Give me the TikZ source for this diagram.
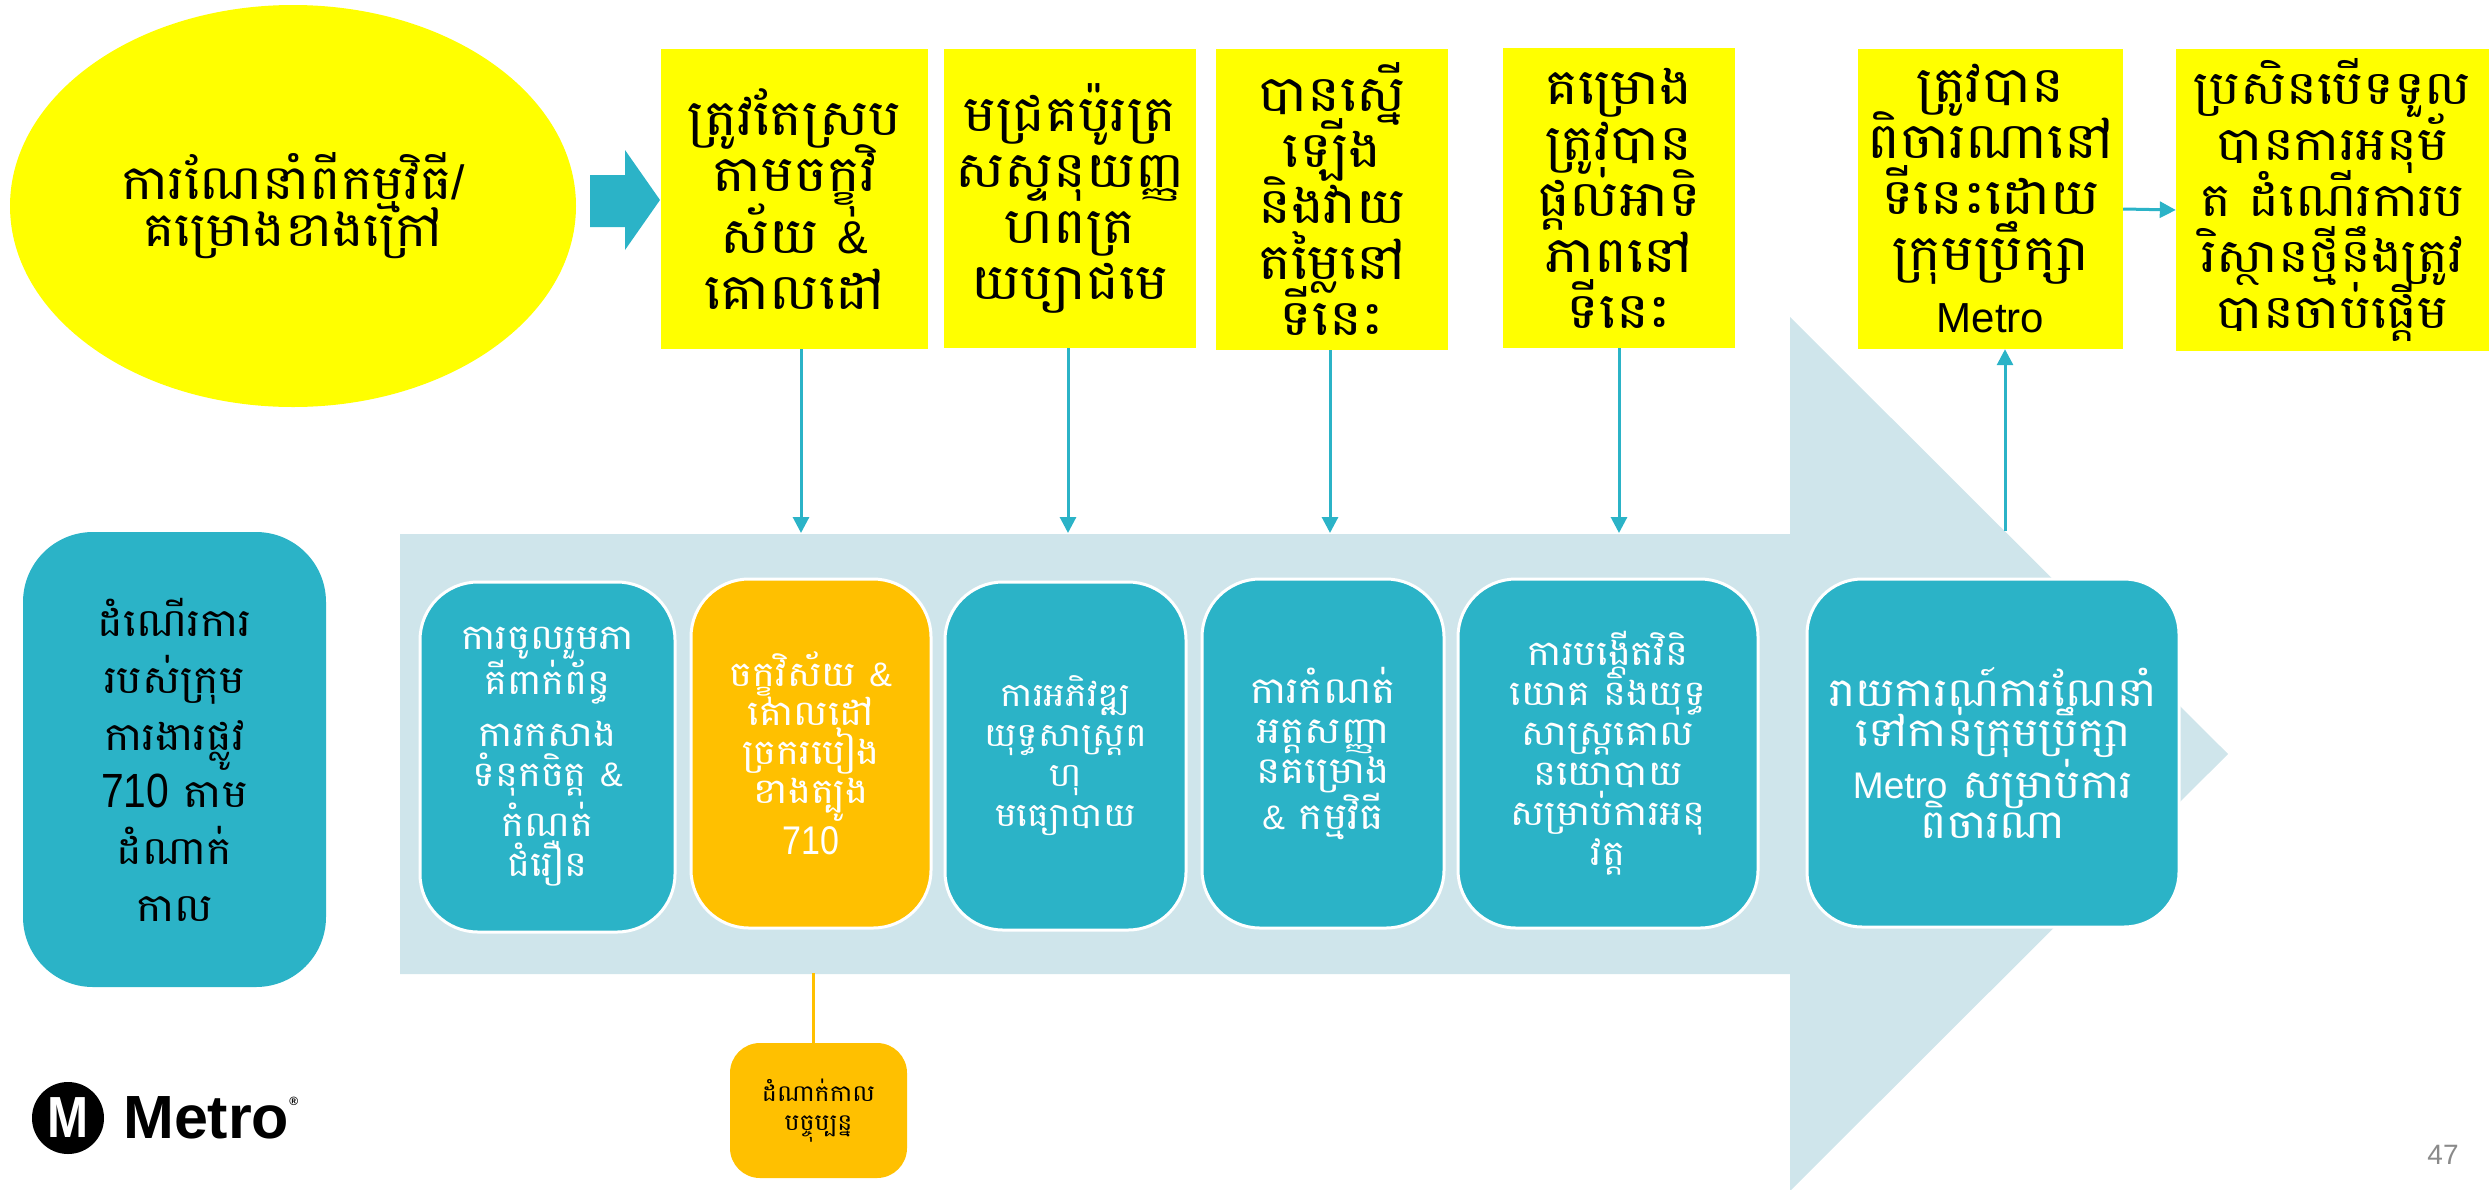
\documentclass[tikz,border=0pt]{standalone}
\usepackage{fontspec}
\usetikzlibrary{shapes.geometric,arrows.meta}
\newfontfamily\kh[Script=Khmer,FakeStretch=1.1]{Battambang}
\newfontfamily\lat[FakeStretch=0.85]{Liberation Sans}
\newfontfamily\latn{Liberation Sans}
\newcommand\LT[2]{{\lat\fontsize{#1}{#1}\selectfont #2}}
\newcommand\LN[2]{{\latn\fontsize{#1}{#1}\selectfont #2}}
\newcommand\fx[2]{\kh\fontsize{#1}{#2}\selectfont\lineskiplimit=-200pt\lineskip=0pt\relax}
\definecolor{ylw}{HTML}{FFFF00}
\definecolor{cyn}{HTML}{2BB3C7}
\definecolor{lblue}{HTML}{CFE5EB}
\definecolor{orng}{HTML}{FFC000}
\definecolor{pgray}{HTML}{8A8A8A}
\tikzset{
 ybox/.style={fill=ylw, inner sep=0pt, align=center, text=black, font={\fx{50}{56}}},
 cbox/.style={fill=cyn, draw=white, line width=3pt, rounded corners=58pt, inner sep=0pt, align=center, text=white, font={\fx{34}{40}}},
 obox/.style={cbox, fill=orng},
 conn/.style={draw=cyn, line width=3pt, -{Triangle[length=16pt,width=16pt]}},
}
\begin{document}
\begin{tikzpicture}[x=1pt,y=-1pt]
\useasboundingbox (0,0) rectangle (2491,1189);
% big light arrow
\fill[lblue] (400,534) -- (1790,534) -- (1790,317) -- (2228,754) -- (1790,1191) -- (1790,974) -- (400,974) -- cycle;
% small block arrow
\fill[cyn] (590,175) -- (625,175) -- (625,150) -- (660,200) -- (625,250) -- (625,227) -- (590,227) -- cycle;
% ellipse
\node[ellipse, fill=ylw, minimum width=566pt, minimum height=402pt, inner sep=0pt, align=center,
  font={\fx{48}{47}}] (ell) at (293,206) {ការណែនាំពីកម្មវិធី\LN{48}{/}\\គម្រោងខាងក្រៅ};
% yellow boxes
\node[ybox, minimum width=267pt, minimum height=300pt] (Y1) at (794.5,199) {ត្រូវតែស្រប\\តាមចក្ខុវិ\\[6pt]ស័យ \LN{46}{\&}\\គោលដៅ};
\node[ybox, minimum width=252pt, minimum height=299pt] (Y2) at (1070,198.5) {មជ្រគប៉ូរត្រ\\សស្ទនុយញ្ញ\\ហពត្រ\\យប្យាជមេ};
\node[ybox, minimum width=232pt, minimum height=301pt] (Y3) at (1332,199.5) {បានស្នើ\\ឡើង\\និងវាយ\\តម្លៃនៅ\\ទីនេះ};
\node[ybox, minimum width=232pt, minimum height=300pt] (Y4) at (1619,198) {គម្រោង\\ត្រូវបាន\\ផ្តល់អាទិ\\ភាពនៅ\\ទីនេះ};
\node[ybox, minimum width=265pt, minimum height=300pt] (Y5) at (1990.5,199) {ត្រូវបាន\\ពិចារណានៅ\\ទីនេះដោយ\\ក្រុមប្រឹក្សា\\[6pt]\LN{42}{Metro}};
\node[ybox, minimum width=313pt, minimum height=302pt, font={\fx{47}{56}}] (Y6) at (2332.5,200) {ប្រសិនបើទទួល\\បានការអនុម័\\ត ដំណើរការប\\រិស្ថានថ្មីនឹងត្រូវ\\បានចាប់ផ្តើម};
% lower left box
\node[cbox, draw=none, rounded corners=70pt, minimum width=303pt, minimum height=455pt, text=black,
  font={\fx{39}{57}}] (L) at (174.5,759.5) {ដំណើរការ\\របស់ក្រុម\\ការងារផ្លូវ\\\LT{48}{710} តាម\\ដំណាក់\\កាល};
% process boxes
\node[cbox, font={\fx{35}{40}}, minimum width=255pt, minimum height=350pt] (A) at (547.5,757) {ការចូលរួមភា\\[5pt]គីពាក់ព័ន្ធ\\[12pt]ការកសាង\\ទំនុកចិត្ត \LN{34}{\&}\\[10pt]កំណត់\\ជំរឿន};
\node[obox, font={\fx{35}{39}}, minimum width=240pt, minimum height=349pt] (B) at (811,753.5) {ចក្ខុវិស័យ \LN{34}{\&}\\គោលដៅ\\ច្រករបៀង\\ខាងត្បូង\\[12pt]\LT{40}{710}};
\node[cbox, font={\fx{33}{40}}, minimum width=241pt, minimum height=348pt] (C) at (1065.5,756) {ការអភិវឌ្ឍ\\យុទ្ធសាស្ត្រព\\ហុ\\មធ្យោបាយ};
\node[cbox, font={\fx{37}{40}}, minimum width=242pt, minimum height=349pt] (D) at (1323,753.5) {ការកំណត់\\អត្តសញ្ញា\\នគម្រោង\\[6pt]\LN{34}{\&} កម្មវិធី};
\node[cbox, font={\fx{35}{40}}, minimum width=300pt, minimum height=349pt] (E) at (1608,753.5) {ការបង្កើតវិនិ\\យោគ និងយុទ្ធ\\សាស្ត្រគោល\\នយោបាយ\\សម្រាប់ការអនុ\\វត្ត};
\node[cbox, rounded corners=55pt, minimum width=372pt, minimum height=348pt, font={\fx{40}{40}}] (F) at (1993,753) {រាយការណ៍ការណែនាំ\\ទៅកាន់ក្រុមប្រឹក្សា\\[12pt]\LN{37}{Metro} សម្រាប់ការ\\ពិចារណា};
% current phase box
\node[fill=orng, rounded corners=30pt, minimum width=177pt, minimum height=135pt, inner sep=0pt, align=center,
  font={\fx{23}{29}}] (S) at (818.5,1110.5) {ដំណាក់កាល\\បច្ចុប្បន្ន};
% connectors
\coordinate (t1) at (801,533);
\coordinate (t2) at (1068,533);
\coordinate (t3) at (1330,533);
\coordinate (t4) at (1619,533);
\coordinate (fu) at (2005,531);
\coordinate (ob) at (813,973);
\draw[conn] (Y1.south -| t1) -- (t1);
\draw[conn] (Y2.south -| t2) -- (t2);
\draw[conn] (Y3.south -| t3) -- (t3);
\draw[conn] (Y4.south -| t4) -- (t4);
\draw[conn] (fu) -- (Y5.south -| fu);
\draw[conn] ([yshift=-10pt]Y5.east) -- ([yshift=-10pt]Y6.west);
\draw[orng, line width=3pt] (ob) -- (S.north -| ob);
% logo
\node[circle, fill=black, minimum size=72pt, inner sep=0pt] (logoc) at (68,1118) {};
\node[text=white, inner sep=0pt, font={\lat\bfseries\fontsize{58}{58}\selectfont}] at (logoc) {M};
\node[anchor=west, inner sep=0pt, font={\latn\bfseries\fontsize{61}{61}\selectfont}] (logot) at (123,1118) {Metro\raisebox{0.55em}{\fontsize{12}{12}\selectfont ®}};
% page number
\node[text=pgray, inner sep=0pt, font={\latn\fontsize{28}{28}\selectfont}] (pg) at (2443,1155) {47};
\end{tikzpicture}
\end{document}
